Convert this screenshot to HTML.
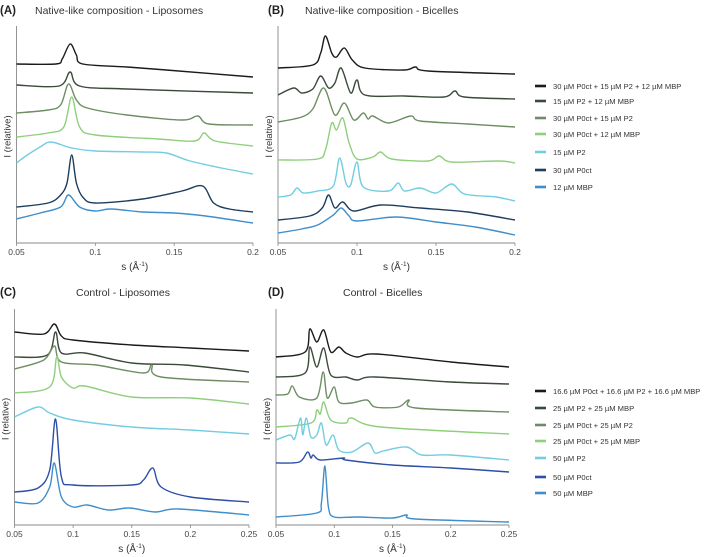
<!DOCTYPE html>
<html><head><meta charset="utf-8"><style>
html,body{margin:0;padding:0;background:#fff;}
svg{display:block;font-family:"Liberation Sans",sans-serif;}
</style></head><body>
<svg id="fig" width="709" height="557" viewBox="0 0 709 557"></svg>
<script>
// ---- data (s in Å^-1, I in relative units) ----
const namesAB = ["30 µM P0ct + 15 µM P2 + 12 µM MBP","15 µM P2 + 12 µM MBP","30 µM P0ct + 15 µM P2","30 µM P0ct + 12 µM MBP","15 µM P2","30 µM P0ct","12 µM MBP"];
const namesCD = ["16.6 µM P0ct + 16.6 µM P2 + 16.6 µM MBP","25 µM P2 + 25 µM MBP","25 µM P0ct + 25 µM P2","25 µM P0ct + 25 µM MBP","50 µM P2","50 µM P0ct","50 µM MBP"];
const colorsAB = ["#1b1b1b","#3b4a3a","#6e8d62","#8fcf7c","#72cde2","#1f3d5e","#3f8ecb"];
const colorsCD = ["#1b1b1b","#3b4a3a","#6e8d62","#8fcf7c","#72cde2","#2d4fa6","#3f8ecb"];
const ticksAB = [0.05,0.1,0.15,0.2];
const ticksCD = [0.05,0.1,0.15,0.2,0.25];
const tickLabelsAB = ["0.05","0.1","0.15","0.2"];
const tickLabelsCD = ["0.05","0.1","0.15","0.2","0.25"];
const seriesA = [
 [[0.05,179],[0.075,179],[0.079,184],[0.084,199],[0.088,188],[0.092,179],[0.12,176],[0.145,173],[0.2,166]],
 [[0.05,158],[0.077,157],[0.084,171],[0.09,157],[0.12,154],[0.2,150]],
 [[0.05,130],[0.07,133],[0.078,138],[0.083,159],[0.088,143],[0.095,135],[0.12,128],[0.155,123],[0.165,127],[0.172,119],[0.2,118]],
 [[0.05,106],[0.07,110],[0.08,116],[0.085,146],[0.09,116],[0.1,108],[0.14,104],[0.163,102],[0.169,110],[0.176,102],[0.2,97]],
 [[0.05,80],[0.055,86],[0.065,96],[0.072,101],[0.085,95],[0.1,92],[0.13,91],[0.145,90],[0.16,82],[0.18,75],[0.2,69]],
 [[0.05,36],[0.07,40],[0.078,48],[0.082,60],[0.085,88],[0.088,60],[0.092,46],[0.1,40],[0.13,44],[0.155,52],[0.168,57],[0.175,40],[0.185,34],[0.2,31]],
 [[0.05,24],[0.065,30],[0.078,36],[0.083,48],[0.09,36],[0.1,32],[0.11,34],[0.13,31],[0.15,30],[0.17,27],[0.2,20]]
];
const seriesB = [
 [[0.05,175],[0.072,178],[0.077,190],[0.08,207],[0.084,190],[0.087,186],[0.092,195],[0.097,183],[0.105,175],[0.13,173],[0.137,176],[0.145,172],[0.2,169]],
 [[0.05,148],[0.06,155],[0.065,150],[0.072,154],[0.077,167],[0.082,155],[0.086,160],[0.09,175],[0.096,150],[0.1,163],[0.105,148],[0.13,147],[0.155,146],[0.162,152],[0.168,146],[0.2,144]],
 [[0.05,121],[0.065,126],[0.072,134],[0.079,155],[0.086,128],[0.092,140],[0.098,123],[0.104,130],[0.107,124],[0.11,127],[0.12,120],[0.134,127],[0.14,122],[0.17,119],[0.2,116]],
 [[0.05,83],[0.075,84],[0.08,93],[0.084,120],[0.087,113],[0.091,125],[0.095,100],[0.1,84],[0.11,86],[0.115,91],[0.122,84],[0.145,82],[0.152,87],[0.16,81],[0.19,82],[0.2,80]],
 [[0.05,46],[0.058,48],[0.062,55],[0.066,50],[0.075,52],[0.085,57],[0.089,85],[0.093,60],[0.096,58],[0.1,81],[0.104,56],[0.12,52],[0.126,60],[0.13,52],[0.14,55],[0.15,50],[0.16,59],[0.168,49],[0.188,46],[0.2,42]],
 [[0.05,23],[0.07,27],[0.078,35],[0.082,48],[0.086,35],[0.091,41],[0.098,32],[0.115,38],[0.14,35],[0.17,31],[0.2,23]],
 [[0.05,10],[0.065,14],[0.075,18],[0.085,28],[0.09,35],[0.095,27],[0.1,22],[0.125,26],[0.15,21],[0.175,16],[0.2,8]]
];
const seriesC = [
 [[0.05,193],[0.075,191],[0.084,201],[0.09,189],[0.1,185],[0.15,180],[0.2,177],[0.25,174]],
 [[0.05,168],[0.078,170],[0.085,193],[0.09,172],[0.11,172],[0.15,162],[0.195,160],[0.25,153]],
 [[0.05,156],[0.075,165],[0.084,179],[0.09,163],[0.12,160],[0.16,152],[0.167,160],[0.175,148],[0.25,143]],
 [[0.05,132],[0.08,138],[0.086,168],[0.09,148],[0.1,137],[0.11,139],[0.15,128],[0.2,127],[0.25,121]],
 [[0.05,108],[0.07,118],[0.08,112],[0.1,105],[0.15,98],[0.2,95],[0.25,91]],
 [[0.05,33],[0.07,37],[0.08,55],[0.085,106],[0.09,48],[0.1,40],[0.15,40],[0.16,45],[0.168,57],[0.175,38],[0.2,28],[0.25,23]],
 [[0.05,23],[0.07,22],[0.08,38],[0.084,62],[0.09,28],[0.1,18],[0.112,20],[0.13,15],[0.148,17],[0.17,13],[0.19,16],[0.25,10]]
];
const seriesD = [
 [[0.05,168],[0.075,173],[0.079,196],[0.085,183],[0.091,195],[0.097,173],[0.104,178],[0.11,172],[0.12,168],[0.136,171],[0.2,163],[0.25,158]],
 [[0.05,148],[0.075,152],[0.079,178],[0.085,158],[0.091,177],[0.097,150],[0.11,148],[0.12,145],[0.135,148],[0.2,143],[0.25,141]],
 [[0.05,130],[0.06,131],[0.064,139],[0.07,128],[0.085,127],[0.0905,153],[0.094,127],[0.1,138],[0.104,123],[0.115,122],[0.128,125],[0.135,118],[0.155,118],[0.164,125],[0.17,117],[0.25,113]],
 [[0.05,98],[0.08,102],[0.085,115],[0.088,111],[0.091,123],[0.097,105],[0.11,102],[0.115,107],[0.14,98],[0.25,91]],
 [[0.05,85],[0.062,90],[0.066,86],[0.071,107],[0.073,90],[0.076,107],[0.08,88],[0.085,90],[0.089,102],[0.093,80],[0.099,90],[0.104,75],[0.115,73],[0.129,82],[0.135,72],[0.142,74],[0.162,78],[0.175,70],[0.2,70],[0.25,65]],
 [[0.05,62],[0.07,63],[0.077,73],[0.08,67],[0.082,70],[0.088,65],[0.108,67],[0.11,65],[0.15,60],[0.2,57],[0.25,53]],
 [[0.05,8],[0.085,12],[0.089,22],[0.092,59],[0.095,18],[0.1,8],[0.12,8],[0.15,7],[0.162,10],[0.17,6],[0.25,3]]
];

const NS="http://www.w3.org/2000/svg";
const fig=document.getElementById('fig');
function mk(tag,attrs,parent){const e=document.createElementNS(NS,tag);for(const k in attrs)e.setAttribute(k,attrs[k]);(parent||fig).appendChild(e);return e;}
function smooth(pts){
 let d='M'+pts[0][0].toFixed(1)+','+pts[0][1].toFixed(1);
 for(let i=0;i<pts.length-1;i++){
  const p0=pts[Math.max(0,i-1)],p1=pts[i],p2=pts[i+1],p3=pts[Math.min(pts.length-1,i+2)];
  const k=0.16;
  const c1x=p1[0]+(p2[0]-p0[0])*k,c1y=p1[1]+(p2[1]-p0[1])*k;
  const c2x=p2[0]-(p3[0]-p1[0])*k,c2y=p2[1]-(p3[1]-p1[1])*k;
  d+=` C${c1x.toFixed(1)},${c1y.toFixed(1)} ${c2x.toFixed(1)},${c2y.toFixed(1)} ${p2[0].toFixed(1)},${p2[1].toFixed(1)}`;
 }
 return d;
}

const panels=[
 {id:"a",label:"(A)",title:"Native-like composition - Liposomes",tx:35,ty:14,x0:16.5,x1:253,top:26,bot:243,smin:0.05,smax:0.2,ticks:ticksAB,tl:tickLabelsAB,series:seriesA,colors:colorsAB,lx:0},
 {id:"b",label:"(B)",title:"Native-like composition - Bicelles",tx:305,ty:14,x0:278,x1:515,top:26,bot:243,smin:0.05,smax:0.2,ticks:ticksAB,tl:tickLabelsAB,series:seriesB,colors:colorsAB,lx:268},
 {id:"c",label:"(C)",title:"Control - Liposomes",tx:76,ty:296,x0:14.5,x1:249,top:309,bot:525,smin:0.05,smax:0.25,ticks:ticksCD,tl:tickLabelsCD,series:seriesC,colors:colorsCD,lx:0},
 {id:"d",label:"(D)",title:"Control - Bicelles",tx:343,ty:296,x0:276,x1:509,top:309,bot:525,smin:0.05,smax:0.25,ticks:ticksCD,tl:tickLabelsCD,series:seriesD,colors:colorsCD,lx:268}
];
panels.forEach(p=>{
 const g=mk('g',{});
 
 
 const xs=s=>p.x0+(s-p.smin)/(p.smax-p.smin)*(p.x1-p.x0);
 const ys=v=>p.bot-v;
 const lab=mk('text',{x:p.lx,y:p.ty,'font-size':11.5,'font-weight':'bold',fill:'#222'},g);lab.textContent=p.label;
 
 
 const tt=mk('text',{x:p.tx,y:p.ty,'font-size':10.5,fill:'#333'},g);tt.textContent=p.title;
 
 
 const ya=mk('line',{x1:p.x0,y1:p.top,x2:p.x0,y2:p.bot,stroke:'#888','stroke-width':0.9},g);
 
 
 const xa=mk('line',{x1:p.x0,y1:p.bot,x2:p.x1,y2:p.bot,stroke:'#888','stroke-width':0.9},g);
 
 
 p.ticks.forEach((t,i)=>{
  const tk=mk('line',{x1:xs(t),y1:p.bot,x2:xs(t),y2:p.bot+3,stroke:'#888','stroke-width':0.8},g);
  
  
  const tl=mk('text',{x:xs(t),y:p.bot+12,'font-size':8.5,'text-anchor':'middle',fill:'#444'},g);tl.textContent=p.tl[i];
  
  
 });
 const xt=mk('text',{x:(p.x0+p.x1)/2,y:p.bot+27,'font-size':10,'text-anchor':'middle',fill:'#333'},g);
 xt.innerHTML='s (Å<tspan dy="-4" font-size="6.5">-1</tspan><tspan dy="4">)</tspan>';
 
 
 const cy=(p.top+p.bot)/2+2;
 const yt=mk('text',{x:p.x0-6,y:cy,'font-size':9.5,'text-anchor':'middle',fill:'#333',transform:`rotate(-90 ${p.x0-6} ${cy})`},g);
 yt.textContent='I (relative)';
 
 
 p.series.forEach((ser,i)=>{
  const pts=ser.map(pt=>[xs(pt[0]),ys(pt[1])]);
  const path=mk('path',{d:smooth(pts),fill:'none',stroke:p.colors[i],'stroke-width':1.4,'stroke-linejoin':'round'},g);
  
  
 });
});
// legends
function legend(names,colors,rows,id){
 const g=mk('g',{});
 
 
 names.forEach((n,i)=>{
  const r=mk('rect',{x:535,y:rows[i]-1.3,width:11,height:2.6,fill:colors[i]},g);
  
  
  const t=mk('text',{x:553,y:rows[i]+3,'font-size':7.6,fill:'#333'},g);t.textContent=n;
  
  
 });
}
legend(namesAB,colorsAB,[86,101,118,134,152,170,187],'ab');
legend(namesCD,colorsCD,[391,408,425,441,458,477,493],'cd');
</script>
</body></html>
